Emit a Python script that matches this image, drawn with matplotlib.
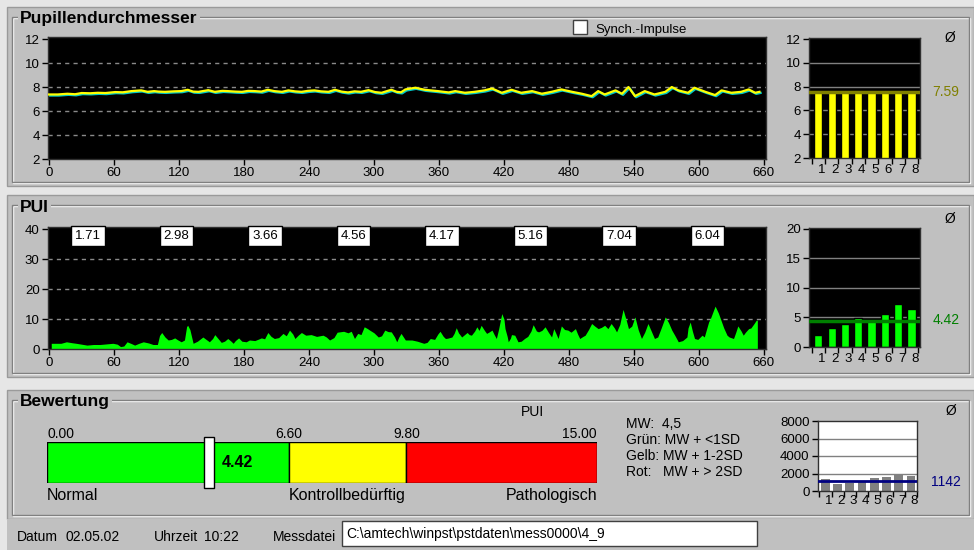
import matplotlib
matplotlib.use('Agg')
import matplotlib.pyplot as plt
import matplotlib.patheffects as pe
from matplotlib.patches import Rectangle
import numpy as np

plt.rcParams['font.family'] = ['Liberation Sans', 'DejaVu Sans']

# pupil diameter over time (s, mm)
pd_t = [0, 8, 17, 24, 30, 38, 45, 52, 61, 68, 76, 85, 91, 97, 101, 107, 115, 122, 128, 133,
        138, 147, 153, 160, 165, 172, 178, 184, 190, 196, 202, 208, 215, 221, 227, 233, 239,
        245, 251, 258, 264, 270, 276, 282, 288, 295, 301, 307, 312, 316, 321, 325, 329, 338,
        347, 359, 369, 375, 384, 393, 402, 409, 418, 427, 436, 446, 455, 464, 473, 483, 492,
        501, 507, 513, 523, 529, 535, 541, 550, 559, 569, 575, 581, 590, 596, 606, 615, 621,
        630, 639, 646, 652, 656]
pd_v = [7.38, 7.38, 7.44, 7.40, 7.50, 7.48, 7.52, 7.50, 7.58, 7.56, 7.66, 7.72, 7.60, 7.66,
        7.62, 7.60, 7.64, 7.66, 7.77, 7.62, 7.60, 7.74, 7.60, 7.68, 7.66, 7.62, 7.60, 7.68,
        7.66, 7.62, 7.77, 7.66, 7.60, 7.72, 7.64, 7.60, 7.68, 7.72, 7.64, 7.60, 7.77, 7.62,
        7.55, 7.64, 7.60, 7.74, 7.58, 7.52, 7.66, 7.77, 7.60, 7.56, 7.80, 7.94, 7.77, 7.66,
        7.55, 7.66, 7.52, 7.60, 7.72, 7.88, 7.52, 7.77, 7.52, 7.66, 7.44, 7.60, 7.80, 7.60,
        7.44, 7.24, 7.66, 7.38, 7.72, 7.44, 8.00, 7.24, 7.66, 7.38, 7.60, 8.00, 7.72, 7.52,
        7.94, 7.60, 7.33, 7.72, 7.52, 7.60, 7.80, 7.52, 7.60]
pd_seg = [7.55, 7.75, 7.75, 7.6, 7.75, 7.6, 7.6, 7.75]
pd_mean = 7.59

# PUI over time
pui_t = [2, 11, 16, 21, 25, 30, 35, 41, 47, 53, 59, 63, 66, 69, 72, 76, 79, 83, 87, 92, 96,
         100, 102, 104, 107, 110, 113, 116, 119, 122, 125, 127, 128, 130, 133, 137, 142, 145,
         148, 151, 153, 156, 159, 162, 165, 168, 170, 172, 175, 178, 182, 185, 190, 196, 199,
         202, 205, 208, 212, 216, 219, 222, 225, 227, 230, 233, 237, 242, 247, 253, 256, 259,
         263, 266, 272, 276, 279, 282, 285, 288, 291, 294, 296, 300, 304, 307, 310, 313, 316,
         319, 321, 323, 325, 329, 335, 340, 346, 349, 352, 356, 359, 361, 364, 366, 368, 372,
         374, 376, 378, 381, 383, 386, 388, 390, 393, 395, 397, 399, 402, 404, 406, 409, 411,
         413, 415, 418, 420, 421, 423, 424, 426, 427, 430, 433, 436, 439, 442, 445, 447, 450,
         452, 455, 458, 461, 464, 466, 468, 470, 473, 476, 479, 482, 486, 488, 490, 493, 495,
         498, 501, 504, 507, 510, 513, 516, 519, 522, 524, 527, 530, 533, 535, 538, 541, 544,
         547, 550, 553, 556, 559, 562, 565, 569, 572, 575, 578, 581, 585, 589, 590, 592, 594,
         596, 599, 603, 605, 609, 611, 615, 618, 621, 623, 626, 628, 632, 634, 636, 639, 641,
         643, 646, 648, 651, 653, 654]
pui_v = [1.9, 1.9, 2.4, 2.1, 1.9, 1.6, 1.3, 1.5, 1.5, 1.7, 1.9, 1.6, 0.8, 1.0, 2.4, 1.8, 1.3,
         1.9, 2.4, 2.0, 1.5, 1.5, 4.5, 5.5, 4.0, 3.0, 3.2, 3.7, 3.0, 2.4, 3.0, 7.5, 7.9, 6.5,
         1.9, 2.6, 4.0, 3.2, 2.4, 3.5, 4.8, 3.5, 2.2, 2.6, 3.5, 2.6, 1.9, 2.8, 3.7, 2.6, 2.4,
         3.0, 2.8, 3.7, 3.4, 5.5, 4.2, 3.5, 3.8, 5.2, 4.4, 6.3, 5.0, 3.5, 4.6, 5.5, 4.6, 4.8,
         4.2, 4.6, 4.0, 3.0, 3.8, 5.6, 5.9, 5.4, 5.9, 3.5, 5.2, 4.8, 7.4, 6.8, 6.3, 5.4, 4.0,
         4.4, 6.3, 5.8, 5.7, 4.0, 2.4, 4.0, 5.2, 3.0, 3.0, 2.6, 1.9, 2.2, 3.5, 3.2, 5.0, 5.9,
         4.2, 3.5, 3.6, 4.0, 5.2, 7.1, 5.4, 4.0, 4.6, 5.5, 4.8, 4.6, 6.0, 7.4, 6.2, 7.9, 6.2,
         5.2, 5.6, 6.3, 4.8, 3.5, 6.5, 11.8, 10.0, 6.8, 4.2, 2.4, 3.6, 4.8, 4.6, 2.4, 2.6,
         3.5, 4.2, 6.0, 8.1, 6.0, 5.7, 6.2, 7.4, 5.6, 4.0, 6.8, 5.2, 3.5, 7.7, 6.5, 6.3, 5.6,
         6.8, 5.0, 3.5, 4.2, 4.6, 6.4, 8.5, 7.6, 6.8, 7.2, 7.9, 6.8, 8.5, 7.0, 5.7, 8.2, 13.2,
         9.5, 6.8, 7.6, 10.7, 6.4, 3.5, 5.6, 8.5, 6.0, 3.5, 4.0, 6.8, 10.7, 8.8, 6.3, 4.4,
         2.4, 2.8, 4.0, 7.0, 9.0, 6.0, 3.5, 3.2, 4.6, 4.0, 9.0, 10.5, 14.3, 12.0, 9.0, 7.0,
         4.6, 4.0, 3.5, 5.5, 7.7, 6.0, 4.6, 5.6, 6.8, 7.0, 8.5, 9.6, 9.6]
pui_seg_labels = [1.71, 2.98, 3.66, 4.56, 4.17, 5.16, 7.04, 6.04]
pui_seg_bars = [2.0, 3.2, 3.9, 4.9, 4.4, 5.6, 7.2, 6.4]
pui_mean = 4.42

amp_seg = [1330, 800, 950, 1070, 1450, 1640, 1980, 1750]
amp_mean = 1142

gauge_edges = [0, 6.6, 9.8, 15]
gauge_colors = ['#00ff00', '#ffff00', '#ff0000']
gauge_names = ['Normal', 'Kontrollbedürftig', 'Pathologisch']
score = 4.42

seg_names = ['1', '2', '3', '4', '5', '6', '7', '8']
time_ticks = list(range(0, 661, 60))

W, H = 974, 550
PANEL = '#c0c0c0'

fig = plt.figure(figsize=(W / 100, H / 100), dpi=100, facecolor='#e6e6e6')


def fr(x0, y0, x1, y1):
    return [x0 / W, 1 - y1 / H, (x1 - x0) / W, (y1 - y0) / H]


def box(x0, y0, x1, y1, **kw):
    fig.add_artist(Rectangle((x0 / W, 1 - y1 / H), (x1 - x0) / W, (y1 - y0) / H,
                             transform=fig.transFigure, **kw))


def txt(x, y, s, **kw):
    kw.setdefault('fontsize', 10)
    fig.text(x / W, 1 - y / H, s, **kw)


def group(x0, y0, x1, y1, title, ty):
    box(x0 - 5, y0 - 10, 974, y1 + 4, fc=PANEL, ec='#9a9a9a', lw=1, zorder=-5)
    box(x0 + 1, y0 + 1, x1 + 1, y1 + 1, fc='none', ec='white', lw=1, zorder=-4)
    box(x0, y0, x1, y1, fc='none', ec='#808080', lw=1, zorder=-4)
    txt(x0 + 8, ty, title, fontsize=12.5, fontweight='bold', va='baseline',
        bbox=dict(fc=PANEL, ec='none', pad=1.5))


def style(ax, face='black'):
    ax.set_facecolor(face)
    for s in ax.spines.values():
        s.set_color('#303030')
        s.set_linewidth(1)
    ax.tick_params(direction='out', length=4, width=1, colors='black',
                   labelsize=9.5, pad=2)


def seg_axis(ax, lo, hi):
    ax.set_xlim(lo, hi)
    ax.set_xticks(np.arange(0.5, 9, 1))
    ax.set_xticklabels([])
    ax.set_xticks(np.arange(1, 9) + 0.25, minor=True)
    ax.set_xticklabels(seg_names, minor=True)
    ax.tick_params(axis='x', which='minor', length=0, labelsize=9.5, pad=4)


group(12, 17, 969, 182, 'Pupillendurchmesser', 22.7)
group(12, 205, 969, 373, 'PUI', 211.7)
group(12, 400, 969, 515, 'Bewertung', 405.7)
box(7, 519, 974, 550, fc=PANEL, ec='none', zorder=-5)

# --- pupil diameter trace
ax1 = fig.add_axes(fr(48, 37, 766, 159))
style(ax1)
for y in (4, 6, 8, 10):
    ax1.axhline(y, color='#8a8a8a', lw=1, ls=(0, (3, 3)), zorder=1)
ax1.plot(pd_t, pd_v, color='#ffff00', lw=1.6, zorder=3,
         path_effects=[pe.SimpleLineShadow(offset=(0.8, -0.8), shadow_color='#00c8c8', alpha=1),
                       pe.Normal()])
ax1.set_xlim(-1, 662)
ax1.set_ylim(2, 12.17)
ax1.set_xticks(time_ticks)
ax1.set_yticks(range(2, 13, 2))

box(573, 20, 587, 34, fc='white', ec='#404040', lw=1)
txt(595, 32.7, 'Synch.-Impulse', fontsize=9.5, va='baseline')

ax3 = fig.add_axes(fr(809, 38, 920, 158))
style(ax3)
for y in (4, 6, 8, 10):
    ax3.axhline(y, color='#808080', lw=1, zorder=1)
ax3.bar(range(1, 9), pd_seg, width=0.62, color='#ffff00', edgecolor='black', lw=1, zorder=2)
ax3.axhline(pd_mean, color='#808000', lw=2.5, zorder=3)
ax3.set_ylim(2, 12.1)
ax3.set_yticks(range(2, 13, 2))
seg_axis(ax3, 0.3, 8.63)
txt(950, 38, 'Ø', ha='center', va='center', fontsize=10)
txt(946, 91.5, f'{pd_mean:.2f}', ha='center', va='center', fontsize=10, color='#808000')

# --- PUI trace
ax2 = fig.add_axes(fr(48, 227, 766, 349))
style(ax2)
for y in (10, 20, 30):
    ax2.axhline(y, color='#8a8a8a', lw=1, ls=(0, (3, 3)), zorder=1)
ax2.fill_between(pui_t, pui_v, 0, color='#00ff00', lw=0, zorder=2)
ax2.set_xlim(-1, 662)
ax2.set_ylim(0, 40.67)
ax2.set_xticks(time_ticks)
ax2.set_yticks(range(0, 41, 10))
for i, v in enumerate(pui_seg_labels):
    ax2.text(36 + 81.7 * i, 37.6, f'{v:.2f}', ha='center', va='center', fontsize=9.5, zorder=5,
             bbox=dict(boxstyle='square,pad=0.3', fc='white', ec='black', lw=1))

ax4 = fig.add_axes(fr(809, 228, 920, 347))
style(ax4)
for y in (5, 10, 15):
    ax4.axhline(y, color='#808080', lw=1, zorder=1)
ax4.bar(range(1, 9), pui_seg_bars, width=0.62, color='#00ff00', edgecolor='black', lw=1, zorder=2)
ax4.axhline(pui_mean, color='#008000', lw=2.5, zorder=3)
ax4.set_ylim(0, 20.1)
ax4.set_yticks(range(0, 21, 5))
seg_axis(ax4, 0.3, 8.63)
txt(950, 219, 'Ø', ha='center', va='center', fontsize=10)
txt(946, 320.5, f'{pui_mean:.2f}', ha='center', va='center', fontsize=10, color='#008000')

# --- rating gauge
axg = fig.add_axes(fr(47, 442, 597, 483))
axg.barh(0.5, np.diff(gauge_edges), left=gauge_edges[:-1], height=1,
         color=gauge_colors, edgecolor='black', lw=1)
axg.set_xlim(0, 15)
axg.set_ylim(0, 1)
axg.axis('off')
axg.add_patch(Rectangle((score - 0.135, -0.12), 0.27, 1.24, fc='white', ec='black', lw=1,
                        clip_on=False, zorder=5))
axg.text(score + 0.35, 0.5, f'{score:.2f}', fontsize=11.5, fontweight='bold', va='center')
for e, ha in zip(gauge_edges, ['left', 'center', 'center', 'right']):
    axg.text(e, 1.1, f'{e:.2f}', ha=ha, va='baseline', fontsize=10)
for e, name, ha in zip([0, 6.6, 15], gauge_names, ['left', 'left', 'right']):
    axg.text(e, -0.41, name, ha=ha, va='baseline', fontsize=11.5)
axg.text(13.25, 1.73, 'PUI', ha='center', va='center', fontsize=10)

legend_lines = ['MW:  4,5', 'Grün: MW + <1SD', 'Gelb: MW + 1-2SD', 'Rot:   MW + > 2SD']
for i, s in enumerate(legend_lines):
    txt(626, 427.7 + 16 * i, s, va='baseline', fontsize=10)

ax5 = fig.add_axes(fr(818, 421, 917, 491))
style(ax5, face='white')
for y in (2000, 4000, 6000):
    ax5.axhline(y, color='#808080', lw=1, zorder=1)
ax5.bar(range(1, 9), amp_seg, width=0.72, color='#808080', lw=0, zorder=2)
ax5.axhline(amp_mean, color='#000080', lw=2, zorder=3)
ax5.set_ylim(0, 8000)
ax5.set_yticks(range(0, 8001, 2000))
seg_axis(ax5, 0.39, 8.4)
ax5.tick_params(axis='x', which='minor', pad=3)
txt(951, 411, 'Ø', ha='center', va='center', fontsize=10)
txt(946, 482, str(amp_mean), ha='center', va='center', fontsize=10, color='#000080')

# --- status bar
txt(17, 541, 'Datum', va='baseline')
txt(66, 541, '02.05.02', va='baseline')
txt(154, 541, 'Uhrzeit', va='baseline')
txt(204, 541, '10:22', va='baseline')
txt(273, 541, 'Messdatei', va='baseline')
box(342, 521, 757, 546, fc='white', ec='#404040', lw=1)
txt(346, 538, 'C:\\amtech\\winpst\\pstdaten\\mess0000\\4_9', va='baseline')

fig.savefig('out.png', dpi=100, facecolor=fig.get_facecolor())
